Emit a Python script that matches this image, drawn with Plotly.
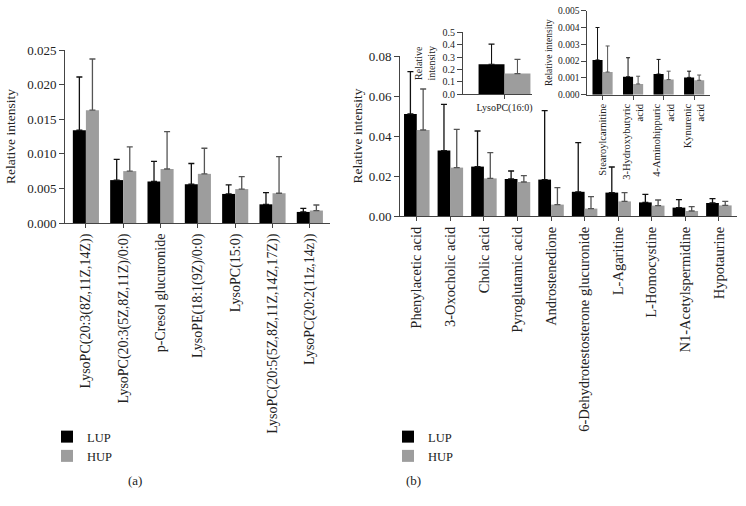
import plotly.graph_objects as go

W, H = 746, 506

# ---------------- data ----------------
cats_a = ["LysoPC(20:3(8Z,11Z,14Z))", "LysoPC(20:3(5Z,8Z,11Z)/0:0)", "p-Cresol glucuronide",
          "LysoPE(18:1(9Z)/0:0)", "LysoPC(15:0)", "LysoPC(20:5(5Z,8Z,11Z,14Z,17Z))",
          "LysoPC(20:2(11z,14z))"]
lup_a = [0.0134, 0.0062, 0.0060, 0.0056, 0.0042, 0.0027, 0.0016]
lup_a_sd = [0.0077, 0.0030, 0.0029, 0.0030, 0.0013, 0.0017, 0.0005]
hup_a = [0.0163, 0.0075, 0.0078, 0.0071, 0.0049, 0.0043, 0.0018]
hup_a_sd = [0.0074, 0.0035, 0.0054, 0.0037, 0.0018, 0.0053, 0.0008]

cats_b = ["Phenylacetic acid", "3-Oxocholic acid", "Cholic acid", "Pyroglutamic acid",
          "Androstenedione", "6-Dehydrotestosterone glucuronide", "L-Agaritine",
          "L-Homocystine", "N1-Acetylspermidine", "Hypotaurine"]
lup_b = [0.0510, 0.0327, 0.0247, 0.0185, 0.0182, 0.0121, 0.0117, 0.0068, 0.0042, 0.0065]
lup_b_sd = [0.0212, 0.0231, 0.0178, 0.0040, 0.0345, 0.0246, 0.0128, 0.0040, 0.0040, 0.0022]
hup_b = [0.0430, 0.0242, 0.0188, 0.0170, 0.0057, 0.0037, 0.0073, 0.0052, 0.0025, 0.0053]
hup_b_sd = [0.0205, 0.0191, 0.0129, 0.0032, 0.0085, 0.0060, 0.0044, 0.0028, 0.0022, 0.0020]

cats_i1 = ["LysoPC(16:0)"]
lup_i1 = [0.242]
lup_i1_sd = [0.163]
hup_i1 = [0.167]
hup_i1_sd = [0.115]

cats_i2 = ["Stearoylcarnitine", "3-Hydroxybutyric<br>acid", "4-Aminohippuric<br>acid", "Kynurenic<br>acid"]
lup_i2 = [0.00207, 0.00107, 0.00123, 0.00103]
lup_i2_sd = [0.00193, 0.00113, 0.00087, 0.00037]
hup_i2 = [0.00135, 0.00064, 0.00090, 0.00086]
hup_i2_sd = [0.00155, 0.00046, 0.00050, 0.00031]

BLACK = "#000000"
GRAY = "#9d9d9d"
EBLACK = "#111111"
EGRAY = "#555555"
FONT = "Liberation Serif"
AXC = "#444444"


def px_x(a, b):
    return [a / W, b / W]


def px_y(bottom, top):
    return [1 - bottom / H, 1 - top / H]


fig = go.Figure()


def add_pair(cats, lup, lsd, hup, hsd, xa, ya, w, legend="legend", show=False, eth=1.3, ew=3):
    n = len(cats)
    fig.add_trace(go.Bar(x=cats, y=lup, name="LUP", marker=dict(color=BLACK, line=dict(width=0)),
                         width=w, offset=-w, xaxis=xa, yaxis=ya,
                         error_y=dict(type="data", symmetric=False, array=lsd, arrayminus=[0] * n,
                                      color=EBLACK, thickness=eth, width=ew),
                         showlegend=show, legend=legend, legendgroup="LUP"))
    fig.add_trace(go.Bar(x=cats, y=hup, name="HUP", marker=dict(color=GRAY, line=dict(width=0)),
                         width=w, offset=0, xaxis=xa, yaxis=ya,
                         error_y=dict(type="data", symmetric=False, array=hsd, arrayminus=[0] * n,
                                      color=EGRAY, thickness=eth, width=ew),
                         showlegend=show, legend=legend, legendgroup="HUP"))


add_pair(cats_a, lup_a, lup_a_sd, hup_a, hup_a_sd, "x", "y", 0.35, legend="legend", show=True)
add_pair(cats_b, lup_b, lup_b_sd, hup_b, hup_b_sd, "x2", "y2", 0.38, legend="legend2", show=True)
add_pair(cats_i1, lup_i1, lup_i1_sd, hup_i1, hup_i1_sd, "x3", "y3", 0.5, eth=1.1, ew=3)
add_pair(cats_i2, lup_i2, lup_i2_sd, hup_i2, hup_i2_sd, "x4", "y4", 0.33, eth=1.0, ew=2)

common_x = dict(showline=True, linecolor=AXC, linewidth=1, ticks="outside", ticklen=4,
                tickcolor=AXC, showgrid=False, zeroline=False, automargin=False,
                type="category")
common_y = dict(showline=True, linecolor=AXC, linewidth=1, ticks="outside", ticklen=5,
                tickcolor=AXC, showgrid=False, zeroline=False, automargin=False)

fig.update_layout(
    width=W, height=H, margin=dict(l=0, r=0, t=0, b=0, autoexpand=False),
    paper_bgcolor="white", plot_bgcolor="white",
    barmode="overlay",
    font=dict(family=FONT, color="#222222", size=12),
    xaxis=dict(**common_x, domain=px_x(65, 330), range=[-0.56, 6.54], anchor="y",
               tickangle=-90, tickfont=dict(size=14, family=FONT)),
    yaxis=dict(**common_y, domain=px_y(223, 50), range=[0, 0.025], dtick=0.005,
               tickformat=".3f", anchor="x", tickfont=dict(size=13),
               title=dict(text="Relative intensity", font=dict(size=13.5), standoff=8)),
    xaxis2=dict(**common_x, domain=px_x(400, 737), range=[-0.5, 9.54], anchor="y2",
                tickangle=-90, tickfont=dict(size=14.5, family=FONT)),
    yaxis2=dict(**common_y, domain=px_y(216, 56), range=[0, 0.08], dtick=0.02,
                tickformat=".2f", anchor="x2", tickfont=dict(size=13),
                title=dict(text="Relative intensity", font=dict(size=13.5), standoff=2)),
    xaxis3=dict(**common_x, domain=px_x(463, 532), range=[-0.8, 0.53], anchor="y3",
                tickangle=0, tickfont=dict(size=10)),
    yaxis3=dict(**common_y, domain=px_y(94.3, 32.3), range=[0, 0.5], dtick=0.1,
                tickformat=".1f", anchor="x3", tickfont=dict(size=10),
                title=dict(text="Relative<br>intensity", font=dict(size=10), standoff=4)),
    xaxis4=dict(**common_x, domain=px_x(587.3, 710), range=[-0.5, 3.52], anchor="y4",
                tickangle=-90, tickfont=dict(size=10.5)),
    yaxis4=dict(**common_y, domain=px_y(94.7, 10.7), range=[0, 0.005], dtick=0.001,
                tickformat=".3f", anchor="x4", tickfont=dict(size=9.5),
                title=dict(text="Relative intensity", font=dict(size=9.5), standoff=3)),
    legend=dict(x=47 / W, y=1 - 422 / H, xanchor="left", yanchor="top",
                font=dict(size=12.5, family=FONT), bgcolor="rgba(0,0,0,0)",
                tracegroupgap=0, itemwidth=30),
    legend2=dict(x=388 / W, y=1 - 422 / H, xanchor="left", yanchor="top",
                 font=dict(size=12.5, family=FONT), bgcolor="rgba(0,0,0,0)",
                 tracegroupgap=0, itemwidth=30),
    annotations=[
        dict(text="(a)", x=135 / W, y=1 - 480 / H, xref="paper", yref="paper",
             xanchor="center", yanchor="middle",
             showarrow=False, font=dict(size=13, family=FONT)),
        dict(text="(b)", x=413 / W, y=1 - 480 / H, xref="paper", yref="paper",
             xanchor="center", yanchor="middle",
             showarrow=False, font=dict(size=13, family=FONT)),
    ],
)

fig.write_html("out.html", config={"displayModeBar": False},
               post_script="document.body.style.margin='0';")
